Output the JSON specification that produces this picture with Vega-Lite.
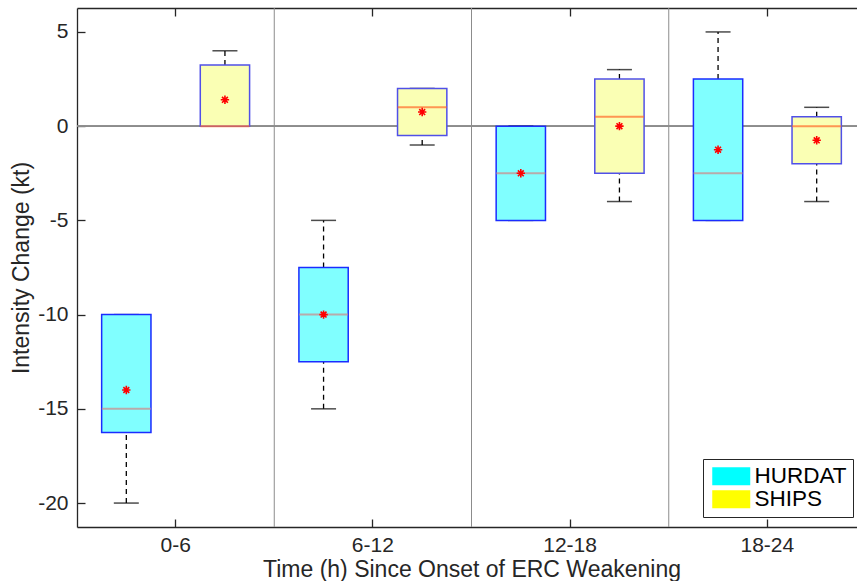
{
  "$schema": "https://vega.github.io/schema/vega-lite/v6.json",
  "width": 780,
  "height": 519,
  "autosize": {"type": "none"},
  "padding": {"left": 77, "top": 8, "right": 0, "bottom": 54},
  "background": "white",
  "config": {
    "view": {"stroke": null},
    "font": "Liberation Sans",
    "axis": {
      "labelFont": "Liberation Sans",
      "titleFont": "Liberation Sans",
      "labelFontSize": 21,
      "titleFontSize": 23,
      "titleFontWeight": "normal",
      "labelColor": "#262626",
      "titleColor": "#262626",
      "domainColor": "#262626",
      "tickColor": "#262626",
      "domainWidth": 1.3,
      "tickWidth": 1.3,
      "grid": false
    }
  },
  "data": {
    "values": [
      {"period": "0-6", "series": "HURDAT", "lo": -20, "q1": -16.25, "med": -15, "q3": -10, "hi": -10, "mean": -14},
      {"period": "0-6", "series": "SHIPS", "lo": 0, "q1": 0, "med": 0, "q3": 3.25, "hi": 4, "mean": 1.4},
      {"period": "6-12", "series": "HURDAT", "lo": -15, "q1": -12.5, "med": -10, "q3": -7.5, "hi": -5, "mean": -10},
      {"period": "6-12", "series": "SHIPS", "lo": -1, "q1": -0.5, "med": 1, "q3": 2, "hi": 2, "mean": 0.75},
      {"period": "12-18", "series": "HURDAT", "lo": -5, "q1": -5, "med": -2.5, "q3": 0, "hi": 0, "mean": -2.5},
      {"period": "12-18", "series": "SHIPS", "lo": -4, "q1": -2.5, "med": 0.5, "q3": 2.5, "hi": 3, "mean": 0},
      {"period": "18-24", "series": "HURDAT", "lo": -5, "q1": -5, "med": -2.5, "q3": 2.5, "hi": 5, "mean": -1.25},
      {"period": "18-24", "series": "SHIPS", "lo": -4, "q1": -2, "med": 0, "q3": 0.5, "hi": 1, "mean": -0.75}
    ]
  },
  "layer": [
    {
      "transform": [{"filter": "datum.series === 'HURDAT' && datum.period !== '0-6'"}],
      "mark": {"type": "rule", "color": "#8c8c8c", "strokeWidth": 1},
      "encoding": {
        "x": {
          "field": "period", "type": "nominal", "bandPosition": 0,
          "sort": ["0-6", "6-12", "12-18", "18-24"],
          "scale": {"domain": ["0-6", "6-12", "12-18", "18-24"], "range": [0, 789], "paddingInner": 0, "paddingOuter": 0},
          "axis": {"orient": "top", "labels": false, "title": null, "tickSize": -8, "domain": true, "grid": false}
        }
      }
    },
    {
      "mark": {"type": "rule", "color": "#8c8c8c", "strokeWidth": 1},
      "encoding": {
        "y": {
          "datum": 0, "type": "quantitative",
          "scale": {"domain": [-21.27, 6.27], "nice": false, "zero": false},
          "axis": {
            "orient": "left", "title": "Intensity Change (kt)", "values": [-20, -15, -10, -5, 0, 5],
            "labelExpr": "datum.value < 0 ? '-' + abs(datum.value) : '' + datum.value",
            "tickSize": -8, "labelPadding": 17, "titlePadding": 4, "domain": true, "labels": true, "ticks": true
          }
        }
      }
    },
    {
      "mark": {"type": "rule", "color": "black", "strokeWidth": 1.3, "strokeDash": [5, 4]},
      "encoding": {
        "x": {"field": "period", "type": "nominal", "axis": null},
        "xOffset": {"field": "series", "type": "nominal", "scale": {"domain": ["HURDAT", "SHIPS"], "paddingInner": 0.5, "paddingOuter": 0.25}},
        "y": {"field": "lo", "type": "quantitative", "axis": null},
        "y2": {"field": "q1"}
      }
    },
    {
      "mark": {"type": "rule", "color": "black", "strokeWidth": 1.3, "strokeDash": [5, 4]},
      "encoding": {
        "x": {"field": "period", "type": "nominal", "axis": null},
        "xOffset": {"field": "series", "type": "nominal"},
        "y": {"field": "q3", "type": "quantitative", "axis": null},
        "y2": {"field": "hi"}
      }
    },
    {
      "mark": {"type": "tick", "orient": "horizontal", "color": "black", "thickness": 1.5, "size": 25},
      "encoding": {
        "x": {"field": "period", "type": "nominal", "axis": null},
        "xOffset": {"field": "series", "type": "nominal"},
        "y": {"field": "lo", "type": "quantitative", "axis": null}
      }
    },
    {
      "mark": {"type": "tick", "orient": "horizontal", "color": "black", "thickness": 1.5, "size": 25},
      "encoding": {
        "x": {"field": "period", "type": "nominal", "axis": null},
        "xOffset": {"field": "series", "type": "nominal"},
        "y": {"field": "hi", "type": "quantitative", "axis": null}
      }
    },
    {
      "mark": {"type": "bar", "strokeWidth": 1.5},
      "encoding": {
        "x": {
          "field": "period", "type": "nominal",
          "axis": {"orient": "bottom", "title": "Time (h) Since Onset of ERC Weakening", "labelAngle": 0, "tickSize": -8, "labelPadding": 15, "titlePadding": 3}
        },
        "xOffset": {"field": "series", "type": "nominal"},
        "y": {"field": "q1", "type": "quantitative", "axis": null},
        "y2": {"field": "q3"},
        "fill": {"condition": {"test": "datum.series === 'HURDAT'", "value": "#80FFFF"}, "value": "#FAFFB4"},
        "stroke": {"condition": {"test": "datum.series === 'HURDAT'", "value": "#1a2cff"}, "value": "#5050e8"}
      }
    },
    {
      "mark": {"type": "tick", "orient": "horizontal", "thickness": 2, "size": 49},
      "encoding": {
        "x": {"field": "period", "type": "nominal", "axis": null},
        "xOffset": {"field": "series", "type": "nominal"},
        "y": {"field": "med", "type": "quantitative", "axis": null},
        "color": {"condition": {"test": "datum.series === 'HURDAT'", "value": "#d08888"}, "value": "#ff6a2a"}
      }
    },
    {
      "mark": {"type": "point", "shape": "M-1,0H1M0,-1V1M-0.7,-0.7L0.7,0.7M-0.7,0.7L0.7,-0.7", "size": 70, "filled": false, "color": "#ff0000", "strokeWidth": 1.6, "opacity": 1},
      "encoding": {
        "x": {"field": "period", "type": "nominal", "axis": null},
        "xOffset": {"field": "series", "type": "nominal"},
        "y": {"field": "mean", "type": "quantitative", "axis": null}
      }
    },
    {
      "mark": {"type": "point", "filled": true, "opacity": 0},
      "encoding": {
        "x": {"field": "period", "type": "nominal", "axis": null},
        "xOffset": {"field": "series", "type": "nominal"},
        "y": {"field": "mean", "type": "quantitative", "axis": null},
        "color": {
          "field": "series", "type": "nominal",
          "scale": {"domain": ["HURDAT", "SHIPS"], "range": ["#00FFFF", "#FFFF00"]},
          "legend": {
            "title": null, "orient": "none", "legendX": 626, "legendY": 451,
            "symbolType": "M-2,-0.95H2V0.95H-2Z", "symbolSize": 361, "symbolOpacity": 1, "symbolStrokeWidth": 0,
            "symbolOffset": 11, "labelOffset": 12,
            "labelFont": "Liberation Sans", "labelFontSize": 22.5, "labelColor": "black",
            "padding": 6, "rowPadding": 0,
            "strokeColor": "#262626", "fillColor": "white"
          }
        }
      }
    }
  ],
  "resolve": {"axis": {"x": "independent", "y": "independent"}}
}
